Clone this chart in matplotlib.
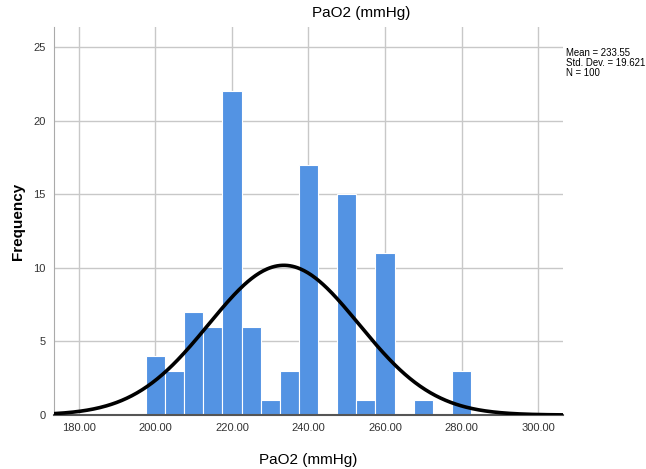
import numpy as np
import matplotlib.pyplot as plt

plt.rcParams['font.family'] = ['Liberation Sans', 'DejaVu Sans']

bin_centers = [200, 205, 210, 215, 220, 225, 230, 235, 240, 245,
               250, 255, 260, 265, 270, 275, 280]
counts = [4, 3, 7, 6, 22, 6, 1, 3, 17, 0, 15, 1, 11, 0, 1, 0, 3]
bin_width = 5

mean = 233.55
std_dev = 19.621
n_total = 100

x_ticks = [180, 200, 220, 240, 260, 280, 300]
y_ticks = [0, 5, 10, 15, 20, 25]


def normal_curve(x, mu, sigma, n, width):
    return n * width * np.exp(-0.5 * ((x - mu) / sigma) ** 2) / (sigma * np.sqrt(2 * np.pi))


fig = plt.figure(figsize=(6.46, 4.69), dpi=100)
ax = fig.add_axes([0.0836, 0.1151, 0.7879, 0.8273])

ax.set_axisbelow(True)
ax.grid(True, color='#c8c8c8', linewidth=1.0)

ax.bar(bin_centers, counts, width=bin_width, color='#5393e3',
       edgecolor='white', linewidth=0.8, zorder=2)

xs = np.linspace(173.5, 306.5, 400)
ax.plot(xs, normal_curve(xs, mean, std_dev, n_total, bin_width),
        color='black', linewidth=2.6, zorder=3)

ax.set_xlim(173.5, 306.5)
ax.set_ylim(0, 26.35)
ax.set_xticks(x_ticks)
ax.set_xticklabels(['%.2f' % t for t in x_ticks])
ax.set_yticks(y_ticks)
ax.tick_params(length=0, labelsize=8, colors='#333333', pad=6)

for side in ['top', 'right']:
    ax.spines[side].set_visible(False)
ax.spines['left'].set_color('#aaaaaa')
ax.spines['bottom'].set_color('#555555')
ax.spines['bottom'].set_linewidth(1.5)

ax.set_xlabel('PaO2 (mmHg)', fontsize=11, labelpad=14)
ax.set_ylabel('Frequency', fontsize=11, fontweight='bold')
ax.yaxis.set_label_coords(-0.057, 0.5)

fig.text(0.559, 0.972, 'PaO2 (mmHg)', ha='center', va='center', fontsize=11)
fig.text(0.876, 0.897, 'Mean = %.2f\nStd. Dev. = %.3f\nN = %d' % (mean, std_dev, n_total),
         ha='left', va='top', fontsize=6.9, linespacing=1.0)

fig.savefig('out.png', dpi=100)
